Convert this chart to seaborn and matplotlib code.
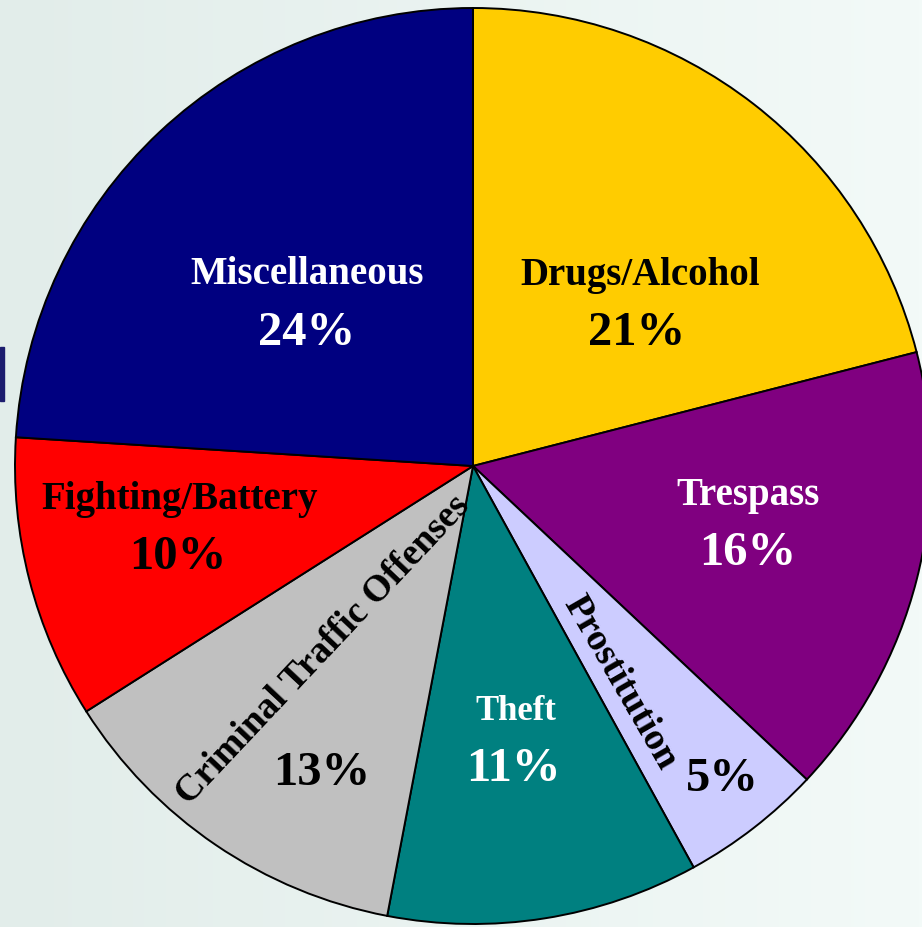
import numpy as np
import seaborn as sns
import matplotlib.pyplot as plt
from matplotlib.patches import Rectangle

sns.set_style("white")
plt.rcParams['font.family'] = ['Liberation Serif', 'DejaVu Serif']
plt.rcParams['font.weight'] = 'bold'

# data (clockwise from 12 o'clock)
categories = ['Drugs/Alcohol', 'Trespass', 'Prostitution', 'Theft',
              'Criminal Traffic Offenses', 'Fighting/Battery', 'Miscellaneous']
shares = [21, 16, 5, 11, 13, 10, 24]
colors = ['#FFCC00', '#800080', '#CCCCFF', '#008080',
          '#C0C0C0', '#FF0000', '#000080']

W, H = 922, 928
fig = plt.figure(figsize=(W / 100, H / 100), dpi=100)
ax = fig.add_axes([0, 0, 1, 1])

# soft slide background
grad = np.linspace(0, 1, 256).reshape(1, -1)
bg = sns.blend_palette(['#e2edea', '#f3faf8'], as_cmap=True)
ax.imshow(grad, cmap=bg, extent=[0, W, 0, H], aspect='auto', zorder=0)
ax.add_patch(Rectangle((0, H - 402), 4, 54, color='#1c1c6e', zorder=1))

cx, cy, r = 473, H - 467, 458
ax.pie(shares, colors=colors, startangle=90, counterclock=False,
       radius=r, center=(cx, cy), frame=True,
       wedgeprops=dict(edgecolor='black', linewidth=1.4, zorder=2))

def px(x, y):
    return x, H - y

# (label pos, pct pos, color, label size, label rotation)
layout = {
    'Drugs/Alcohol': ((640, 275), (637, 333), 'black', 28, 0),
    'Trespass': ((748, 496), (748, 553), 'white', 28, 0),
    'Prostitution': ((620, 683), (722, 779), 'black', 27.5, -60),
    'Theft': ((516, 712), (513, 769), 'white', 25, 0),
    'Criminal Traffic Offenses': ((323, 650), (322, 773), 'black', 27, 46.7),
    'Fighting/Battery': ((180, 499), (178, 557), 'black', 28, 0),
    'Miscellaneous': ((307, 275), (307, 333), 'white', 28, 0),
}

for cat, val in zip(categories, shares):
    lp, pp, col, fs, rot = layout[cat]
    ax.text(*px(*lp), cat, color=col, fontsize=fs, fontweight='bold',
            ha='center', va='center', rotation=rot, rotation_mode='anchor', zorder=3)
    ax.text(*px(*pp), f'{val}%', color=col, fontsize=35, fontweight='bold',
            ha='center', va='center', zorder=3)

ax.set_xlim(0, W)
ax.set_ylim(0, H)
ax.set_aspect('auto')
ax.axis('off')

fig.savefig('out.png', dpi=100)
